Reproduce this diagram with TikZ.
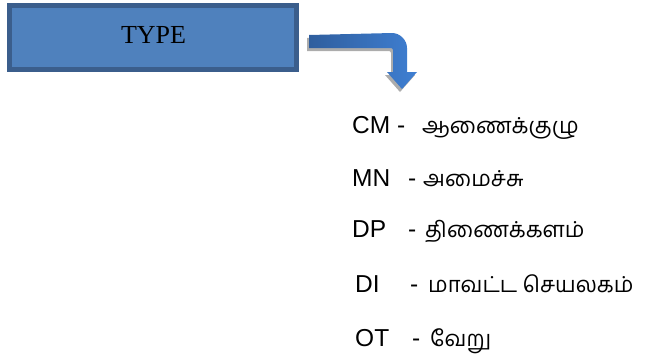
\documentclass[tikz,border=0pt]{standalone}
\usepackage{fontspec}
\setmainfont{Liberation Serif}
\newfontfamily\latinsans{Liberation Sans}
\newfontfamily\tamilfont[Script=Tamil]{Hind Madurai}
\begin{document}
\begin{tikzpicture}[x=1pt,y=-1pt,
  lbl/.style={anchor=base west,inner sep=0pt,font=\latinsans\fontsize{24.5}{28}\selectfont},
  tam/.style={anchor=base west,inner sep=0pt,font=\tamilfont\fontsize{22}{26}\selectfont},
  typebox/.style={draw=boxedge,line width=5pt,fill=boxfill,minimum width=287pt,minimum height=64pt,inner sep=0pt}]
\definecolor{boxedge}{HTML}{3B5E8C}
\definecolor{boxfill}{HTML}{4F81BD}
\definecolor{arrdark}{HTML}{2F5E9E}
\definecolor{arrlight}{HTML}{3F7FD2}
\useasboundingbox (0,0) rectangle (649,360);
% box
\node[typebox] (box) at (153,37.5) {};
\node[anchor=base,inner sep=0pt,font=\fontsize{26}{30}\selectfont] (type) at (153.5,43) {TYPE};
% bent arrow shadow
\fill[gray!65] (307,38) -- (390,36) .. controls (398,36) and (405,43) .. (405,51) -- (405,75) -- (415,75) -- (400,92) -- (385,75) -- (391,75) -- (391,53) .. controls (391,52) and (390,51) .. (389,51) -- (307,51) -- cycle;
% bent arrow
\shade[left color=arrdark,right color=arrlight] (309,35) -- (392,33) .. controls (400,33) and (407,40) .. (407,48) -- (407,72) -- (417,72) -- (402,89) -- (387,72) -- (393,72) -- (393,50) .. controls (393,49) and (392,48) .. (391,48) -- (309,48) -- cycle;
\coordinate (arrtip) at (402,89);
% list
\node[lbl] (cm) at (352,133) {CM -};
\node[tam] (cmt) at (422,133) {ஆணைக்குழு};
\node[lbl] (mn) at (352,186) {MN};
\node[lbl] (mnd) at (408,186) {-};
\node[tam] (mnt) at (423,186) {அமைச்சு};
\node[lbl] (dp) at (352,237) {DP};
\node[lbl] (dpd) at (408,237) {-};
\node[tam] (dpt) at (425,237) {திணைக்களம்};
\node[lbl] (di) at (355,292) {DI};
\node[lbl] (did) at (410,292) {-};
\node[tam] (dit) at (428,292) {மாவட்ட செயலகம்};
\node[lbl] (ot) at (355,346) {OT};
\node[lbl] (otd) at (412,346) {-};
\node[tam] (ott) at (430,346) {வேறு};
\end{tikzpicture}
\end{document}
